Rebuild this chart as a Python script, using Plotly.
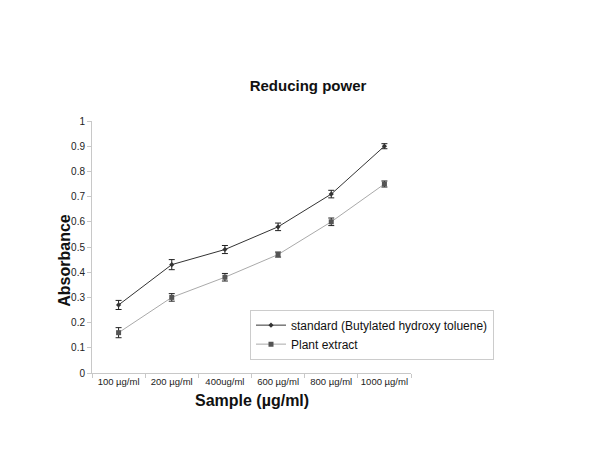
import plotly.graph_objects as go

categories = ["100 µg/ml", "200 µg/ml", "400ug/ml", "600 µg/ml", "800 µg/ml", "1000 µg/ml"]
standard_vals = [0.27, 0.43, 0.49, 0.58, 0.71, 0.90]
standard_err = [0.018, 0.02, 0.016, 0.015, 0.015, 0.01]
plant_vals = [0.16, 0.30, 0.38, 0.47, 0.60, 0.75]
plant_err = [0.02, 0.015, 0.015, 0.01, 0.015, 0.012]

FONT = "Liberation Sans, Arial, Helvetica, sans-serif"

fig = go.Figure()
fig.add_trace(go.Scatter(
    x=categories, y=standard_vals, mode="lines+markers",
    name="standard (Butylated hydroxy toluene)",
    line=dict(color="#333333", width=1),
    marker=dict(symbol="diamond", size=4, color="#333333"),
    error_y=dict(type="data", array=standard_err, visible=True, color="#222222", thickness=1, width=3),
))
fig.add_trace(go.Scatter(
    x=categories, y=plant_vals, mode="lines+markers",
    name="Plant extract",
    line=dict(color="#aaaaaa", width=1),
    marker=dict(symbol="square", size=5, color="#555555"),
    error_y=dict(type="data", array=plant_err, visible=True, color="#222222", thickness=1, width=3),
))

fig.update_layout(
    width=600, height=464,
    paper_bgcolor="white", plot_bgcolor="white",
    margin=dict(l=84, r=197, t=113, b=98.5, autoexpand=False),
    font=dict(family=FONT, color="#222222"),
    showlegend=True,
    legend=dict(
        x=(242 - 84) / 319, y=(365.5 - 302) / 252.5, xanchor="left", yanchor="top",
        bordercolor="#cccccc", borderwidth=1, bgcolor="white",
        font=dict(size=12, color="#111111"),
        itemwidth=30,
    ),
    title=dict(text="<b>Reducing power</b>", x=0.5, xref="container", xanchor="center",
               y=1 - 77.5 / 464, yref="container", yanchor="middle",
               font=dict(size=15, color="#111111")),
    xaxis=dict(
        type="category", showgrid=False, showline=True, linecolor="#c8c8c8", linewidth=1,
        ticks="outside", tickson="boundaries", ticklen=4, tickcolor="#c8c8c8",
        tickfont=dict(size=9.5, color="#222222"), tickangle=0, zeroline=False,
        range=[-0.5, 5.5], automargin=False,
    ),
    yaxis=dict(
        range=[0, 1], dtick=0.1, showgrid=False, showline=True, linecolor="#c8c8c8", linewidth=1,
        ticks="outside", ticklen=4, tickcolor="#c8c8c8",
        tickfont=dict(size=10, color="#222222"), zeroline=False, automargin=False,
    ),
    annotations=[
        dict(text="<b>Absorbance</b>", x=(57 - 84) / 319, y=(365.5 - 253) / 252.5,
             xref="paper", yref="paper", showarrow=False, textangle=-90,
             font=dict(size=16, color="#111111"), xanchor="center", yanchor="middle"),
        dict(text="<b>Sample (µg/ml)</b>", x=0.5, y=-(393 - 365.5) / 252.5,
             xref="paper", yref="paper", showarrow=False,
             font=dict(size=16, color="#111111"), xanchor="center", yanchor="middle"),
    ],
)

fig.write_html("out.html")
